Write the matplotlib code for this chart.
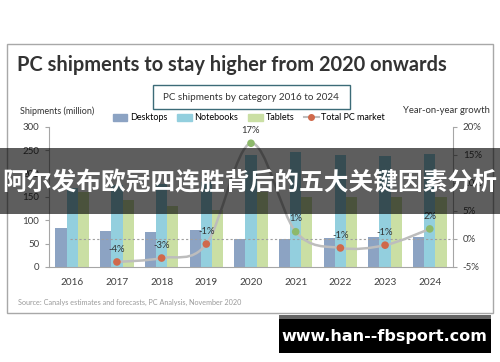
import numpy as np
import matplotlib.pyplot as plt
from matplotlib.patches import Rectangle, Patch, PathPatch
from matplotlib.lines import Line2D
from matplotlib.path import Path

years = ['2016', '2017', '2018', '2019', '2020', '2021', '2022', '2023', '2024']
desktops = [83, 78, 76, 79, 59, 60, 63, 65, 65]
notebooks = [170, 175, 178, 182, 240, 246, 240, 238, 242]
tablets = [160, 143, 131, 123, 160, 150, 150, 150, 150]
growth = [-4.1, -3.4, -0.9, 17.1, 1.3, -1.6, -1.1, 1.8]   # 2017..2024
growth_labels = ['-4%', '-3%', '-1%', '17%', '1%', '-1%', '-1%', '2%']

c_desk = '#8CA3C3'
c_note = '#93CFDE'
c_tab = '#CADFA4'
c_neg = '#D0694B'
c_pos = '#8DB96B'
c_line = '#BDBDBD'

plt.rcParams['font.family'] = ['Lato', 'DejaVu Sans']

W, H = 500, 362
fig = plt.figure(figsize=(5, 3.62), dpi=100)


def fx(x):
    return x / W


def fy(y):
    return 1 - y / H


# outer frame
fig.patches.append(Rectangle((fx(7), fy(313)), fx(486), (313 - 44) / H, transform=fig.transFigure,
                             fill=False, edgecolor='#A8A8A8', lw=1.0, zorder=0))

ax = fig.add_axes([fx(49), fy(267), fx(404), (267 - 127) / H])
x = np.arange(len(years))
bw = 0.25
ax.bar(x - bw, desktops, bw, color=c_desk, zorder=2)
ax.bar(x, notebooks, bw, color=c_note, zorder=2)
ax.bar(x + bw, tablets, bw, color=c_tab, zorder=2)
ax.set_xlim(-0.52, 8.52)
ax.set_ylim(0, 300)
ax.set_yticks(range(0, 301, 50))
ax.set_xticks(x)
ax.set_xticklabels(years)
for s in ['top', 'right']:
    ax.spines[s].set_visible(False)
for s in ['left', 'bottom']:
    ax.spines[s].set_color('#A6A6A6')
ax.tick_params(axis='y', length=3, color='#A6A6A6', labelsize=7, labelcolor='#404040', pad=4)
ax.tick_params(axis='x', length=0, labelsize=7.2, labelcolor='#404040', pad=8)

ax2 = ax.twinx()
ax2.set_ylim(-5, 20)
ax2.set_yticks(range(-5, 21, 5))
ax2.set_yticklabels([f'{v}%' for v in range(-5, 21, 5)])
for s in ['top', 'left', 'bottom']:
    ax2.spines[s].set_visible(False)
ax2.spines['right'].set_color('#A6A6A6')
ax2.tick_params(axis='y', length=3, color='#A6A6A6', labelsize=7, labelcolor='#404040', pad=4)
ax2.axhline(0, xmin=0.052, xmax=1, color='#A0A0A0', lw=0.8, ls=(0, (2, 2)), zorder=1)

# smooth growth line (Catmull-Rom as cubic Bezier)
gx = x[1:].astype(float)
gy = np.array(growth)
verts = [(gx[0], gy[0])]
codes = [Path.MOVETO]
n = len(gx)
for i in range(n - 1):
    p0 = np.array([gx[max(i - 1, 0)], gy[max(i - 1, 0)]])
    p1 = np.array([gx[i], gy[i]])
    p2 = np.array([gx[i + 1], gy[i + 1]])
    p3 = np.array([gx[min(i + 2, n - 1)], gy[min(i + 2, n - 1)]])
    c1 = p1 + (p2 - p0) / 6
    c2 = p2 - (p3 - p1) / 6
    verts += [tuple(c1), tuple(c2), tuple(p2)]
    codes += [Path.CURVE4] * 3
ax2.add_patch(PathPatch(Path(verts, codes), fill=False, edgecolor=c_line, lw=1.8, zorder=3))
cols = [c_neg if v < 0 else c_pos for v in growth]
ax2.scatter(gx, gy, s=30, c=cols, zorder=4, edgecolors='none')
for xi, yi, lab in zip(gx, gy, growth_labels):
    ax2.annotate(lab, (xi, yi), xytext=(0, 6), textcoords='offset points', ha='center', va='bottom',
                 fontsize=6.8, color='#333333', zorder=5)

# titles and labels
fig.text(fx(17), fy(65), 'PC shipments to stay higher from 2020 onwards', fontsize=14.4, fontweight='bold',
         color='#333333', va='center', ha='left')
fig.patches.append(Rectangle((fx(153), fy(109)), fx(197), (109 - 85) / H, transform=fig.transFigure,
                             fill=False, edgecolor='#3C6B78', lw=1.0))
fig.text(fx(251), fy(97), 'PC shipments by category 2016 to 2024', fontsize=7.1, color='#333333',
         ha='center', va='center')
fig.text(fx(20), fy(111), 'Shipments (million)', fontsize=6.5, color='#333333', ha='left', va='center')
fig.text(fx(490), fy(111), 'Year-on-year growth', fontsize=6.8, color='#333333', ha='right', va='center')
fig.text(fx(18), fy(302), 'Source: Canalys estimates and forecasts, PC Analysis, November 2020',
         fontsize=5.2, color='#9A9A9A', ha='left', va='center')

handles = [Patch(color=c_desk), Patch(color=c_note), Patch(color=c_tab),
           Line2D([], [], color=c_line, lw=1.5, marker='o', markersize=4, markerfacecolor=c_neg,
                  markeredgecolor=c_neg)]
fig.legend(handles, ['Desktops', 'Notebooks', 'Tablets', 'Total PC market'], loc='center',
           bbox_to_anchor=(fx(249), fy(118)), ncol=4, frameon=False, fontsize=6.5, handlelength=1.6,
           handleheight=0.8, handletextpad=0.3, columnspacing=1.1)

# overlay banner
fig.patches.append(Rectangle((0, fy(214)), 1, (214 - 148) / H, transform=fig.transFigure,
                             facecolor='black', alpha=0.63, edgecolor='none', zorder=10))
fig.text(0.5, fy(183), '阿尔发布欧冠四连胜背后的五大关键因素分析', fontsize=17.8, fontweight='bold',
         color='white', ha='center', va='center', family=['Noto Sans CJK SC', 'DejaVu Sans'], zorder=11)

# watermark
fig.patches.append(Rectangle((fx(279), fy(319)), fx(212), (319 - 315) / H, transform=fig.transFigure,
                             facecolor='#666666', edgecolor='none', zorder=10))
fig.patches.append(Rectangle((fx(279), fy(353)), fx(212), (353 - 319) / H, transform=fig.transFigure,
                             facecolor='black', edgecolor='none', zorder=10))
fig.text(fx(384), fy(337), 'www.han--fbsport.com', fontsize=11.5, fontweight='bold', color='white',
         ha='center', va='center', family=['DejaVu Sans'], zorder=11)

fig.savefig('out.png', dpi=100)
